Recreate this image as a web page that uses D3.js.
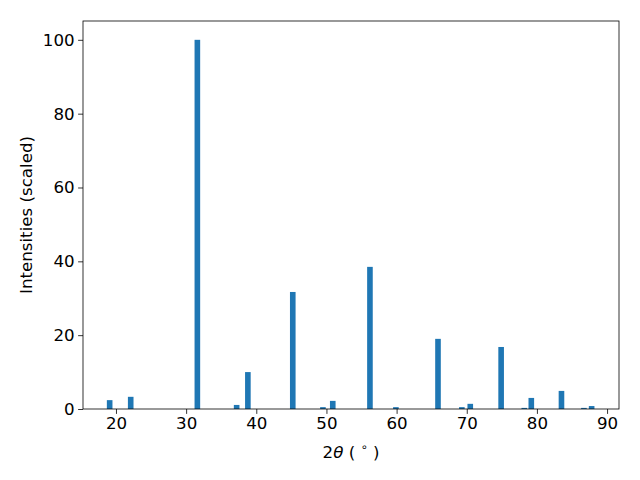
<!DOCTYPE html>
<html><head><meta charset="utf-8">
<script src="https://cdn.jsdelivr.net/npm/d3@7"></script>
<style>body{margin:0;background:#fff}text{font-family:"DejaVu Sans",sans-serif}</style>
</head><body>
<svg id="c" width="640" height="480"></svg>
<script>
const angles = [19.1, 22.1, 31.6, 37.2, 38.8, 45.2, 49.5, 50.9, 56.2, 59.9, 65.9, 69.3, 70.5, 74.9, 78.2, 79.2, 83.5, 86.7, 87.8];
const intensities = [2.4, 3.3, 100, 1.1, 10.0, 31.7, 0.5, 2.2, 38.5, 0.5, 19.0, 0.5, 1.4, 16.8, 0.3, 3.0, 4.9, 0.3, 0.8];
const xTicks = [20, 30, 40, 50, 60, 70, 80, 90];
const yTicks = [0, 20, 40, 60, 80, 100];
const barWidth = 0.8;

const L = 83, R = 619, T = 21, B = 409;
const FS = 16.67;
const svg = d3.select("#c");
const x = d3.scaleLinear().domain([15.3, 91.7]).range([L, R]);
const y = d3.scaleLinear().domain([0, 105.1]).range([B, T]);

svg.append("g").selectAll("rect").data(angles).join("rect")
  .attr("x", (d) => x(d - barWidth / 2))
  .attr("width", (d) => x(d + barWidth / 2) - x(d - barWidth / 2))
  .attr("y", (d, i) => y(intensities[i]))
  .attr("height", (d, i) => y(0) - y(intensities[i]))
  .attr("fill", "#1f77b4");

const xa = svg.append("g").attr("transform", `translate(0,${B})`)
  .call(d3.axisBottom(x).tickValues(xTicks).tickSize(4.9).tickPadding(3.5));
const ya = svg.append("g").attr("transform", `translate(${L},0)`)
  .call(d3.axisLeft(y).tickValues(yTicks).tickSize(4.9).tickPadding(3.5));
[xa, ya].forEach(a => {
  a.attr("font-size", FS).attr("font-family", "DejaVu Sans");
  a.select(".domain").remove();
  a.selectAll("line").attr("stroke", "#000").attr("stroke-width", 0.8);
  a.selectAll("text").attr("font-size", FS).attr("fill", "#000");
});

svg.append("rect").attr("x", L).attr("y", T).attr("width", R - L).attr("height", B - T)
  .attr("fill", "none").attr("stroke", "#000").attr("stroke-width", 0.8);

const xl = svg.append("text").attr("x", (L + R) / 2).attr("y", 458)
  .attr("text-anchor", "middle").attr("font-size", FS);
xl.append("tspan").text("2");
xl.append("tspan").attr("font-style", "italic").text("θ");
xl.append("tspan").text(" ( ");
xl.append("tspan").attr("font-size", 11.5).attr("dy", -7).text("∘");
xl.append("tspan").attr("dy", 7).text(" )");

svg.append("text").attr("transform", `translate(32,${(T + B) / 2}) rotate(-90)`)
  .attr("text-anchor", "middle").attr("font-size", FS).text("Intensities (scaled)");
</script>
</body></html>
